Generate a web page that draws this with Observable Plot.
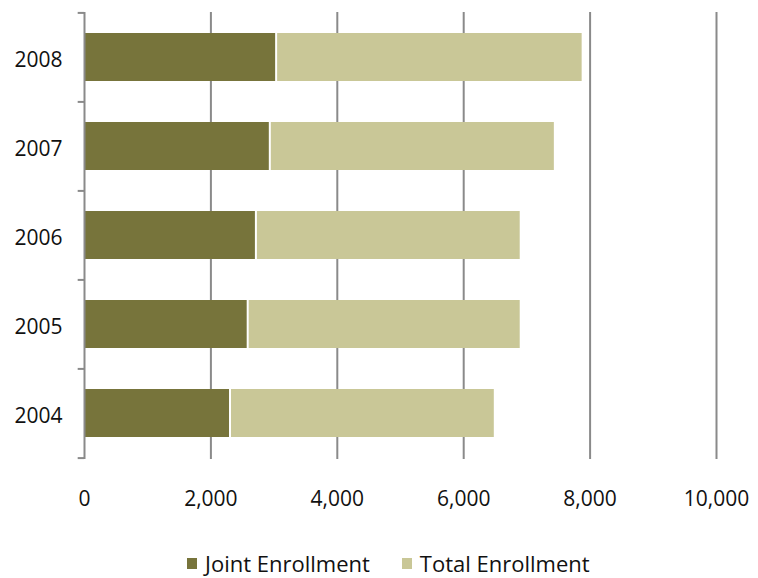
<!DOCTYPE html>
<html>
<head>
<meta charset="utf-8">
<script src="https://cdn.jsdelivr.net/npm/d3@7"></script>
<script src="https://cdn.jsdelivr.net/npm/@observablehq/plot@0.6"></script>
<style>
  html, body { margin: 0; padding: 0; background: #fff; }
  #chart { width: 758px; height: 578px; font-family: "Open Sans", sans-serif; }
  .legend { display: flex; align-items: center; height: 48px; margin-top: 9px; padding-left: 187px; font-size: 22px; color: #111; }
  .legend .item { display: flex; align-items: center; margin-right: 32px; }
  .legend .sw { width: 10px; height: 11px; margin-right: 8px; }
</style>
</head>
<body>
<div id="chart"></div>
<script>
const years = ["2008", "2007", "2006", "2005", "2004"];
const jointEnrollment = [3040, 2940, 2720, 2590, 2310];
const totalEnrollment = [7890, 7450, 6910, 6910, 6500];
const xTicks = [0, 2000, 4000, 6000, 8000, 10000];
const seriesNames = ["Joint Enrollment", "Total Enrollment"];
const colors = ["#77743b", "#c9c797"];
const gridColor = "#8a8a8a";

const rows = [];
years.forEach((y, i) => {
  rows.push({year: y, series: seriesNames[0], value: jointEnrollment[i]});
  rows.push({year: y, series: seriesNames[1], value: totalEnrollment[i] - jointEnrollment[i]});
});

const plot = Plot.plot({
  width: 758,
  height: 530,
  marginLeft: 84,
  marginRight: 42,
  marginTop: 12,
  marginBottom: 71,
  style: {fontFamily: "Open Sans, sans-serif", fontSize: "21px", color: "#111", background: "#fff"},
  x: {domain: [0, 10000], ticks: xTicks, tickFormat: d3.format(","), label: null},
  y: {domain: years, paddingInner: 0.46, paddingOuter: 0.23, label: null},
  color: {domain: seriesNames, range: colors},
  marks: [
    Plot.ruleX(xTicks.slice(1), {stroke: gridColor, strokeWidth: 2}),
    Plot.barX(rows, Plot.stackX({
      y: "year", x: "value", fill: "series", order: seriesNames,
      insetLeft: 1, insetRight: 1
    })),
    Plot.ruleX([0], {stroke: gridColor, strokeWidth: 2}),
    Plot.ruleY(years, {y: d => d, x1: -100, x2: 0, dy: -44.6, stroke: gridColor, strokeWidth: 2}),
    Plot.ruleY(years.slice(-1), {y: d => d, x1: -100, x2: 0, dy: 44.6, stroke: gridColor, strokeWidth: 2}),
    Plot.axisX({ticks: xTicks, tickFormat: d3.format(","), tickSize: 0, tickPadding: 32, label: null, fontSize: 21}),
    Plot.axisY({tickSize: 0, tickPadding: 22, label: null, fontSize: 21, dy: 3})
  ]
});

const chart = document.getElementById("chart");
chart.appendChild(plot);

const legend = document.createElement("div");
legend.className = "legend";
seriesNames.forEach((name, i) => {
  const item = document.createElement("div");
  item.className = "item";
  const sw = document.createElement("span");
  sw.className = "sw";
  sw.style.background = colors[i];
  const label = document.createElement("span");
  label.textContent = name;
  item.appendChild(sw);
  item.appendChild(label);
  legend.appendChild(item);
});
chart.appendChild(legend);
</script>
</body>
</html>
